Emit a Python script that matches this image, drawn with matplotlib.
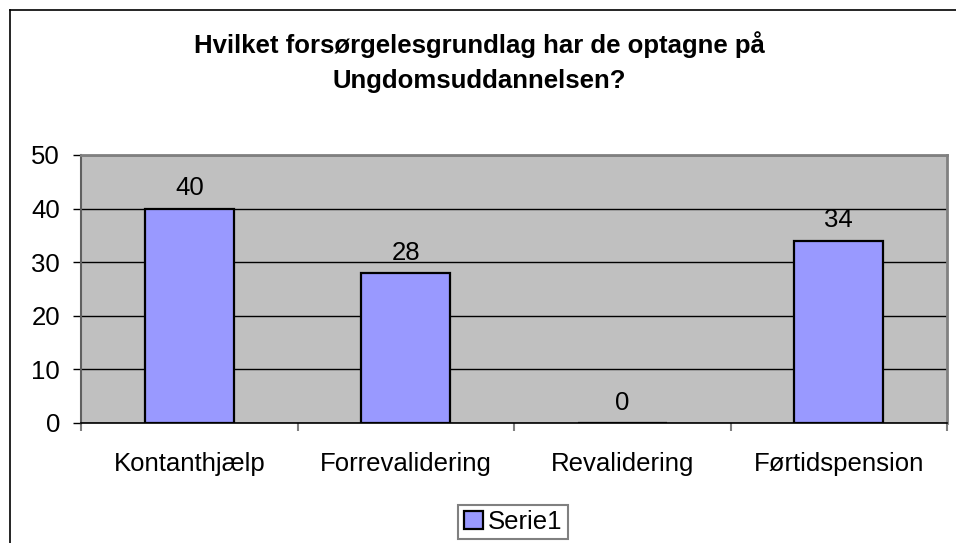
import matplotlib.pyplot as plt
from matplotlib.lines import Line2D

plt.rcParams['font.family'] = ['Liberation Sans', 'DejaVu Sans']

categories = ["Kontanthjælp", "Forrevalidering", "Revalidering", "Førtidspension"]
values = [40, 28, 0, 34]
series_name = "Serie1"
title_lines = ["Hvilket forsørgelesgrundlag har de optagne på", "Ungdomsuddannelsen?"]
yticks = [0, 10, 20, 30, 40, 50]

fs = 18.5

fig = plt.figure(figsize=(9.56, 5.43), dpi=100)
ax = fig.add_axes([81 / 956, 1 - 423 / 543, 866 / 956, 268 / 543])
ax.set_facecolor("#C0C0C0")

x = list(range(len(categories)))
bars = ax.bar(x, values, width=0.41, color="#9999FF", edgecolor="black",
              linewidth=1.6, label=series_name, zorder=3)

for xi, v in zip(x, values):
    ax.annotate(str(v), (xi, v), xytext=(0, 6), textcoords="offset points",
                ha="center", va="bottom", fontsize=fs)

ax.set_xlim(-0.5, len(categories) - 0.5)
ax.set_ylim(0, 50)
ax.set_yticks(yticks)
ax.set_yticklabels([str(t) for t in yticks], fontsize=fs)
ax.tick_params(axis="y", length=6, width=1, color="black", pad=9)
ax.set_xticks(x)
ax.set_xticklabels(categories, fontsize=fs)
ax.tick_params(axis="x", which="major", length=0, pad=21)
ax.set_xticks([i + 0.5 for i in range(-1, len(categories))], minor=True)
ax.tick_params(axis="x", which="minor", length=6, width=1.5, color="#808080")

ax.yaxis.grid(True, color="black", linewidth=1)
ax.set_axisbelow(True)
for side in ["top", "right"]:
    ax.spines[side].set_color("#808080")
    ax.spines[side].set_linewidth(2)
ax.spines["left"].set_color("#606060")
ax.spines["left"].set_linewidth(1.5)
ax.spines["bottom"].set_color("black")
ax.spines["bottom"].set_linewidth(1.2)

# title, one line at a time
fig.text(479 / 956, 1 - 53 / 543, title_lines[0], ha="center", va="baseline",
         fontsize=fs, fontweight="bold")
fig.text(479 / 956, 1 - 88 / 543, title_lines[1], ha="center", va="baseline",
         fontsize=fs, fontweight="bold")

# chart frame (left and top edges)
fig.add_artist(Line2D([9.5 / 956, 9.5 / 956], [0, 1 - 10 / 543], color="black", linewidth=1.2))
fig.add_artist(Line2D([9.5 / 956, 1], [1 - 10 / 543, 1 - 10 / 543], color="black", linewidth=1.2))

leg = fig.legend(loc="center", bbox_to_anchor=(513 / 956, 1 - 522 / 543), fontsize=fs,
                 fancybox=False, framealpha=1, edgecolor="#808080",
                 handlelength=0.75, handleheight=0.75, handletextpad=0.2,
                 borderpad=0.2, borderaxespad=0)
leg.get_frame().set_linewidth(1.5)

fig.savefig("out.png", dpi=100)
